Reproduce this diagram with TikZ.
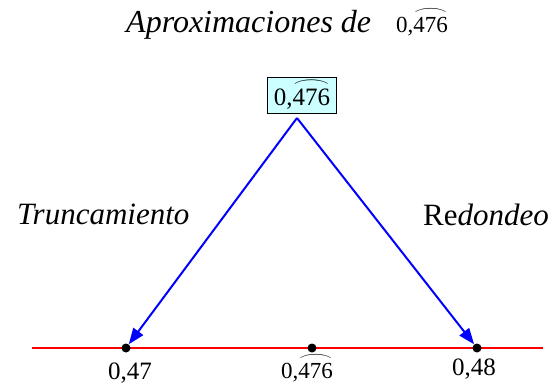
\documentclass[tikz,border=0pt]{standalone}
\usepackage{fontspec}
\setmainfont{Liberation Serif}
\usepackage{tikz}
\usetikzlibrary{arrows.meta}
\definecolor{celeste}{RGB}{204,255,255}
% periodo con arco encima
\newcommand{\periodo}[1]{\begingroup\setbox0\hbox{#1}%
  \rlap{\raisebox{\dimexpr\ht0+0.08em\relax}{\resizebox{\wd0}{0.25em}{$\frown$}}}\box0\endgroup}

\begin{document}
\begin{tikzpicture}[x=1pt, y=-1pt,
  every node/.style={inner sep=0pt},
  grande/.style={font=\fontsize{31}{36}\selectfont},
  caja/.style={draw, line width=0.8pt, fill=celeste, minimum width=69pt, minimum height=36pt, font=\fontsize{25}{28}\selectfont},
  punto/.style={circle, fill=black, minimum size=9pt},
  etiq/.style={font=\fontsize{25}{28}\selectfont, anchor=base},
  flecha/.style={draw=blue, line width=2pt, -{Triangle[length=16pt,width=12pt]}}
]
\useasboundingbox (0,0) rectangle (558,383);

% titulo
\node[grande, font=\fontsize{32}{36}\selectfont, anchor=base west] (titulo) at (126,32) {\itshape Aproximaciones de};
\node[font=\fontsize{23}{26}\selectfont, anchor=base west] (tnum) at (396,32) {0,\periodo{476}};

\node[caja] (caja) at (302,95) {0,\periodo{476}};
\coordinate (vertice) at (297,118);

% recta
\coordinate (izq) at (32,348);
\coordinate (der) at (543,348);
\draw[red, line width=2pt] (izq) -- (der);

\node[punto] (p47) at (126,348) {};
\node[punto] (pmed) at (312,348) {};
\node[punto] (p48) at (477,348) {};

\node[etiq] (e47) at (130,379) {0,47};
\node[etiq, font=\fontsize{23}{26}\selectfont] (emed) at (307,378) {0,\periodo{476}};
\node[etiq] (e48) at (474,375) {0,48};

\draw[flecha] (vertice) -- (p47);
\draw[flecha] (vertice) -- (p48);

\node[grande, anchor=base west] (trunc) at (17,224) {\itshape Truncamiento};
\node[grande, anchor=base west] (redon) at (423,225) {Re\textit{dondeo}};
\end{tikzpicture}
\end{document}
